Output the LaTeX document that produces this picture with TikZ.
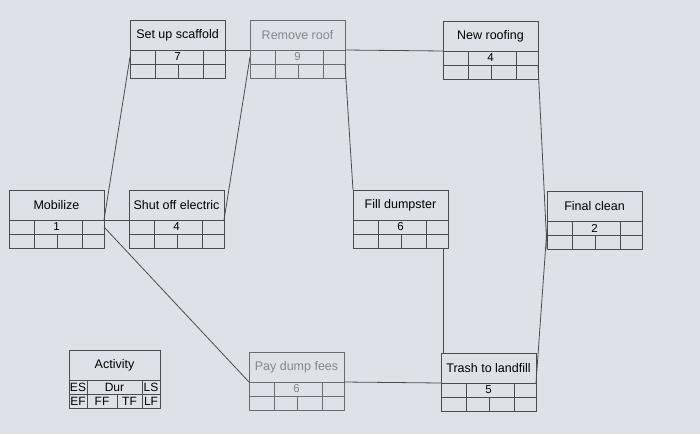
\documentclass[tikz,border=0pt]{standalone}
\usepackage{fontspec}
\setmainfont{Liberation Sans}
\usepackage{tikz}
\usetikzlibrary{positioning}
\definecolor{pagebg}{HTML}{DDE2E9}
\definecolor{boxline}{HTML}{4B4C50}
\definecolor{fadeline}{HTML}{6A6C71}
\definecolor{fadetext}{HTML}{85878C}
\tikzset{
  plain/.style={},
  faded/.style={draw=fadeline, text=fadetext},
  titlebox/.style={draw=boxline, line width=0.8pt, rectangle, inner sep=0pt, outer sep=0pt,
    minimum width=95pt, minimum height=30pt, anchor=north west,
    font=\fontsize{12.5}{14}\selectfont},
  rowbox/.style={draw=boxline, line width=0.8pt, rectangle, inner sep=0pt, outer sep=0pt,
    minimum width=95pt, minimum height=14pt, font=\fontsize{11.5}{12}\selectfont},
  keytext/.style={inner sep=0pt, font=\fontsize{12}{13}\selectfont},
  link/.style={draw=boxline, line width=0.8pt}
}
\newcommand{\activity}[5]{%
  \node[titlebox, #1] (#2) at (#3) {#4};
  \node[rowbox, #1, below=0pt of #2] (#2d) {#5};
  \node[rowbox, #1, below=0pt of #2d] (#2f) {};
  \draw[link, #1] (#2d.north west) ++(25pt,0pt) -- ++(0pt,-28pt)
    (#2d.north west) ++(73pt,0pt) -- ++(0pt,-28pt)
    (#2f.north west) ++(48pt,0pt) -- ++(0pt,-14pt);
}

\begin{document}
\begin{tikzpicture}[x=1pt, y=-1pt]
  \useasboundingbox[fill=pagebg] (0,0) rectangle (700,434);

  \activity{plain}{mob}{9,190}{Mobilize}{1}
  \activity{plain}{scaf}{130,20}{Set up scaffold}{7}
  \activity{plain}{shut}{129,190}{Shut off electric}{4}
  \activity{faded}{rem}{250,20}{Remove roof}{9}
  \activity{plain}{new}{443,21}{New roofing}{4}
  \activity{plain}{fill}{353,190}{Fill dumpster}{6}
  \activity{plain}{final}{547,191}{Final clean}{2}
  \activity{faded}{pay}{249,352}{Pay dump fees}{6}
  \activity{plain}{trash}{441,353}{Trash to landfill}{5}

  \draw[link] (mob.south east) -- (scafd.west);
  \draw[link] (mob.south east) -- (shut.south west);
  \draw[link] (mobd.east) -- (pay.south west);
  \draw[link] (shut.south east) -- (remd.west);
  \draw[link] (scaf.south east) -- (rem.south west);
  \draw[link] (rem.south east) -- (new.south west);
  \draw[link] (remd.south east) -- (fill.north west);
  \draw[link] (newd.south east) -- (finalf.south west);
  \coordinate (drop) at ([xshift=2pt]trash.north west);
  \draw[link] (drop |- fillf.south) -- (drop);
  \draw[link] (pay.south east) -- (trash.south west);
  \draw[link] (trash.south east) -- (finald.west);

  \node[titlebox, minimum width=91pt] (key) at (69,350) {Activity};
  \node[rowbox, minimum width=91pt, below=0pt of key] (keyd) {};
  \node[rowbox, minimum width=91pt, below=0pt of keyd] (keyf) {};
  \draw[link] (keyd.north west) ++(18pt,0pt) -- ++(0pt,-28pt)
    (keyd.north west) ++(73pt,0pt) -- ++(0pt,-28pt)
    (keyf.north west) ++(48pt,0pt) -- ++(0pt,-14pt);
  \node[keytext] (es) at ([xshift=9pt]keyd.west) {ES};
  \node[keytext] (dur) at ([xshift=45.5pt]keyd.west) {Dur};
  \node[keytext] (ls) at ([xshift=-9pt]keyd.east) {LS};
  \node[keytext] (ef) at ([xshift=9pt]keyf.west) {EF};
  \node[keytext] (ff) at ([xshift=33pt]keyf.west) {FF};
  \node[keytext] (tf) at ([xshift=60.5pt]keyf.west) {TF};
  \node[keytext] (lf) at ([xshift=-9pt]keyf.east) {LF};
\end{tikzpicture}
\end{document}
